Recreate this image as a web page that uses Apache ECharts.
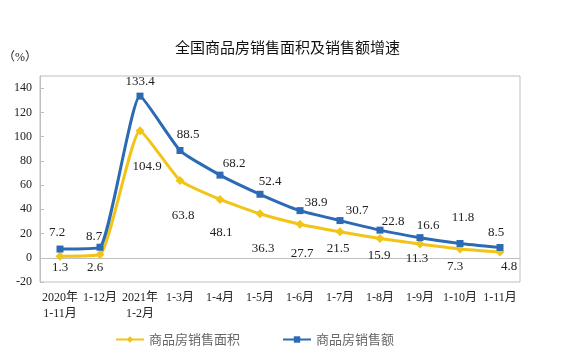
<!DOCTYPE html>
<html>
<head>
<meta charset="utf-8">
<script src="https://cdn.jsdelivr.net/npm/echarts@6/dist/echarts.min.js"></script>
<style>
html,body{margin:0;padding:0;background:#fff;}
#chart{width:567px;height:363px;}
</style>
</head>
<body>
<div id="chart"></div>
<script>
// ---- data ----
var categories = ['2020年\n1-11月', '1-12月', '2021年\n1-2月', '1-3月', '1-4月', '1-5月', '1-6月', '1-7月', '1-8月', '1-9月', '1-10月', '1-11月'];
var areaGrowth = [1.3, 2.6, 104.9, 63.8, 48.1, 36.3, 27.7, 21.5, 15.9, 11.3, 7.3, 4.8];   // 商品房销售面积
var salesGrowth = [7.2, 8.7, 133.4, 88.5, 68.2, 52.4, 38.9, 30.7, 22.8, 16.6, 11.8, 8.5]; // 商品房销售额
var yTicks = [-20, 0, 20, 40, 60, 80, 100, 120, 140];
var seriesNames = ['商品房销售面积', '商品房销售额'];

// ---- label nudges (style, not data) ----
var areaLabelOffset = [[0,11],[-5,13],[7,36],[3,35],[1,33],[3,35],[2,29],[-2,17],[-1,17],[-3,15],[-5,18],[9,15]];
var salesLabelOffset = [[-3,-16],[-6,-11],[0,-15],[8,-16],[14,-12],[10,-13],[16,-8],[17,-10],[13,-9],[8,-12],[3,-26],[-4,-15]];

var serif = '"Liberation Serif", "Times New Roman", "Noto Sans CJK SC", serif';
var YELLOW = '#F2C417';
var BLUE = '#2C6BB3';

function buildData(vals, offs) {
  return vals.map(function (v, i) {
    return {
      value: v,
      label: { offset: offs[i] }
    };
  });
}

var chart = echarts.init(document.getElementById('chart'), null, { renderer: 'canvas' });
chart.setOption({
  animation: false,
  backgroundColor: '#fff',
  title: {
    text: '全国商品房销售面积及销售额增速',
    left: 170,
    top: 35,
    textStyle: { fontFamily: '"Noto Sans CJK SC", sans-serif', fontSize: 15, fontWeight: 'normal', color: '#111' }
  },
  graphic: [{
    type: 'text',
    left: 3,
    top: 52,
    style: { text: '（%）', fontSize: 12, fontFamily: serif, fill: '#222' }
  }],
  legend: {
    left: 115,
    top: 333,
    padding: 0,
    itemWidth: 28,
    itemHeight: 8,
    itemGap: 42,
    textStyle: { fontFamily: '"Noto Sans CJK SC", sans-serif', fontSize: 13, color: '#666', padding: [0, 0, 0, 0] },
    data: seriesNames
  },
  grid: {
    left: 40, right: 47, top: 76, bottom: 81,
    show: true, borderColor: '#BFBFBF', borderWidth: 1, backgroundColor: 'transparent',
    containLabel: false
  },
  xAxis: {
    type: 'category',
    data: categories,
    boundaryGap: true,
    axisLine: { lineStyle: { color: '#BFBFBF', width: 1 } },
    axisTick: { inside: true, length: 5, lineStyle: { color: '#BFBFBF' } },
    axisLabel: { interval: 0, fontFamily: serif, fontSize: 12, color: '#222', lineHeight: 16, margin: 8 }
  },
  yAxis: {
    type: 'value',
    min: -20,
    max: 150,
    splitLine: { show: false },
    axisLine: { show: true, lineStyle: { color: '#BFBFBF', width: 1 } },
    axisTick: { show: true, inside: true, length: 4, lineStyle: { color: '#BFBFBF' }, customValues: yTicks },
    axisLabel: { fontFamily: serif, fontSize: 12, color: '#222', margin: 8, customValues: yTicks }
  },
  series: [
    {
      name: seriesNames[0],
      type: 'line',
      data: buildData(areaGrowth, areaLabelOffset),
      smooth: 0.15,
      symbol: 'diamond',
      symbolSize: 9,
      itemStyle: { color: YELLOW },
      lineStyle: { color: YELLOW, width: 3 },
      label: { show: true, position: 'inside', align: 'center', verticalAlign: 'middle', fontFamily: serif, fontSize: 13, color: '#222' },
      z: 2
    },
    {
      name: seriesNames[1],
      type: 'line',
      data: buildData(salesGrowth, salesLabelOffset),
      smooth: 0.15,
      symbol: 'rect',
      symbolSize: 7,
      itemStyle: { color: BLUE },
      lineStyle: { color: BLUE, width: 3 },
      label: { show: true, position: 'inside', align: 'center', verticalAlign: 'middle', fontFamily: serif, fontSize: 13, color: '#222' },
      z: 3
    }
  ]
});
</script>
</body>
</html>
